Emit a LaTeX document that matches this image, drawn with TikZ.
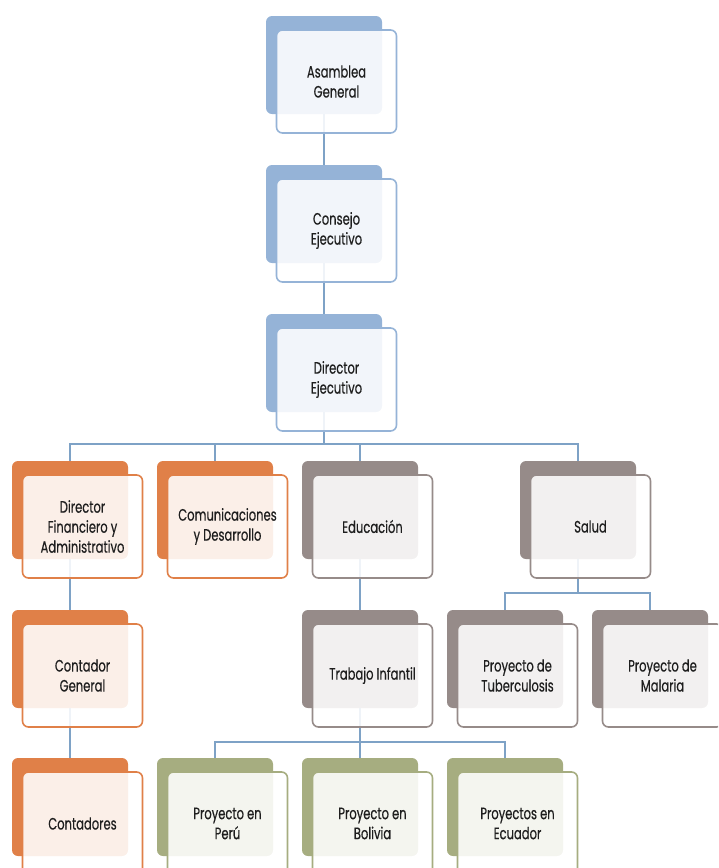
\documentclass[tikz,border=0pt]{standalone}
\usepackage{fontspec}
\setmainfont{Poppins}[FakeStretch=0.7,FakeBold=0.4]
\usepackage{xcolor}
\usetikzlibrary{positioning}
\pgfdeclarelayer{background}
\pgfsetlayers{background,main}

\definecolor{azul}{HTML}{95B3D7}
\definecolor{naranja}{HTML}{E08048}
\definecolor{gris}{HTML}{968B89}
\definecolor{oliva}{HTML}{A6AD80}
\definecolor{linea}{HTML}{7EA2C6}
\definecolor{texto}{HTML}{1E1E1E}

\tikzset{
  back/.style={rectangle, rounded corners=6pt, minimum width=116pt, minimum height=98pt, draw=none, inner sep=0pt},
  front/.style={rectangle, rounded corners=6pt, minimum width=120pt, minimum height=103pt, fill=white, fill opacity=0.88, text opacity=1, line width=1.6pt, align=center, text=texto, font=\fontsize{16.5}{20}\selectfont, inner sep=2pt},
  blueback/.style={back, fill=azul},
  orangeback/.style={back, fill=naranja},
  greyback/.style={back, fill=gris},
  greenback/.style={back, fill=oliva},
  bluefront/.style={front, draw=azul},
  orangefront/.style={front, draw=naranja},
  greyfront/.style={front, draw=gris},
  greenfront/.style={front, draw=oliva},
  conn/.style={draw=linea, line width=1.8pt}
}

\begin{document}
\begin{tikzpicture}[x=1pt,y=-1pt,node distance=2cm,on grid]
   \useasboundingbox (0,0) rectangle (718,868);
   \clip (0,0) rectangle (718,868);
   % back boxes
   \node[blueback] (asamblea-b) at (324,65) {};
   \node[blueback, below=149pt of asamblea-b] (consejo-b) {};
   \node[blueback, below=149pt of consejo-b] (direj-b) {};
   \node[orangeback] (dfa-b) at (70,510) {};
   \node[orangeback, right=145pt of dfa-b] (com-b) {};
   \node[greyback, right=145pt of com-b] (edu-b) {};
   \node[greyback] (salud-b) at (578,510) {};
   \node[orangeback, below=149pt of dfa-b] (cont-b) {};
   \node[orangeback, below=148pt of cont-b] (contadores-b) {};
   \node[greyback, below=149pt of edu-b] (trabajo-b) {};
   \node[greyback, right=145pt of trabajo-b] (tuber-b) {};
   \node[greyback, right=145pt of tuber-b] (malaria-b) {};
   \node[greenback, below=148pt of trabajo-b] (bolivia-b) {};
   \node[greenback, left=145pt of bolivia-b] (peru-b) {};
   \node[greenback, right=145pt of bolivia-b] (ecuador-b) {};
   % front boxes
   \node[bluefront, below right=16.5pt and 12.5pt of asamblea-b] (asamblea) {Asamblea\\General};
   \node[bluefront, below right=16.5pt and 12.5pt of consejo-b] (consejo) {Consejo\\Ejecutivo};
   \node[bluefront, below right=16.5pt and 12.5pt of direj-b] (direj) {Director\\Ejecutivo};
   \node[orangefront, below right=16.5pt and 12.5pt of dfa-b] (dfa) {Director\\Financiero y\\Administrativo};
   \node[orangefront, below right=16.5pt and 12.5pt of com-b] (com) {Comunicaciones\\y Desarrollo};
   \node[greyfront, below right=16.5pt and 12.5pt of edu-b] (edu) {Educación};
   \node[greyfront, below right=16.5pt and 12.5pt of salud-b] (salud) {Salud};
   \node[orangefront, below right=16.5pt and 12.5pt of cont-b] (cont) {Contador\\General};
   \node[orangefront, below right=16.5pt and 12.5pt of contadores-b] (contadores) {Contadores};
   \node[greyfront, below right=16.5pt and 12.5pt of trabajo-b] (trabajo) {Trabajo Infantil};
   \node[greyfront, below right=16.5pt and 12.5pt of tuber-b] (tuber) {Proyecto de\\Tuberculosis};
   \node[greyfront, below right=16.5pt and 12.5pt of malaria-b] (malaria) {Proyecto de\\Malaria};
   \node[greenfront, below right=16.5pt and 12.5pt of peru-b] (peru) {Proyecto en\\Perú};
   \node[greenfront, below right=16.5pt and 12.5pt of bolivia-b] (bolivia) {Proyecto en\\Bolivia};
   \node[greenfront, below right=16.5pt and 12.5pt of ecuador-b] (ecuador) {Proyectos en\\Ecuador};
   % connectors
   \coordinate (bus1) at (0,444);
   \coordinate (bus2) at (0,593);
   \coordinate (bus3) at (0,742);
   \begin{pgfonlayer}{background}
    \path[conn]
    (asamblea-b) -- (consejo-b)
    (consejo-b) -- (direj-b)
    (direj-b) -- (direj-b |- bus1)
    (dfa-b) |- (salud-b |- bus1) -- (salud-b)
    (com-b) -- (com-b |- bus1)
    (edu-b) -- (edu-b |- bus1)
    (dfa-b) -- (contadores-b)
    (edu-b) -- (trabajo-b)
    (trabajo-b) -- (trabajo-b |- bus3)
    (peru-b) |- (ecuador-b |- bus3) -- (ecuador-b)
    (bolivia-b) -- (bolivia-b |- bus3)
    (salud-b) -- (salud-b |- bus2)
    (tuber-b) |- (malaria-b |- bus2) -- (malaria-b);
   \end{pgfonlayer}
\end{tikzpicture}
\end{document}
